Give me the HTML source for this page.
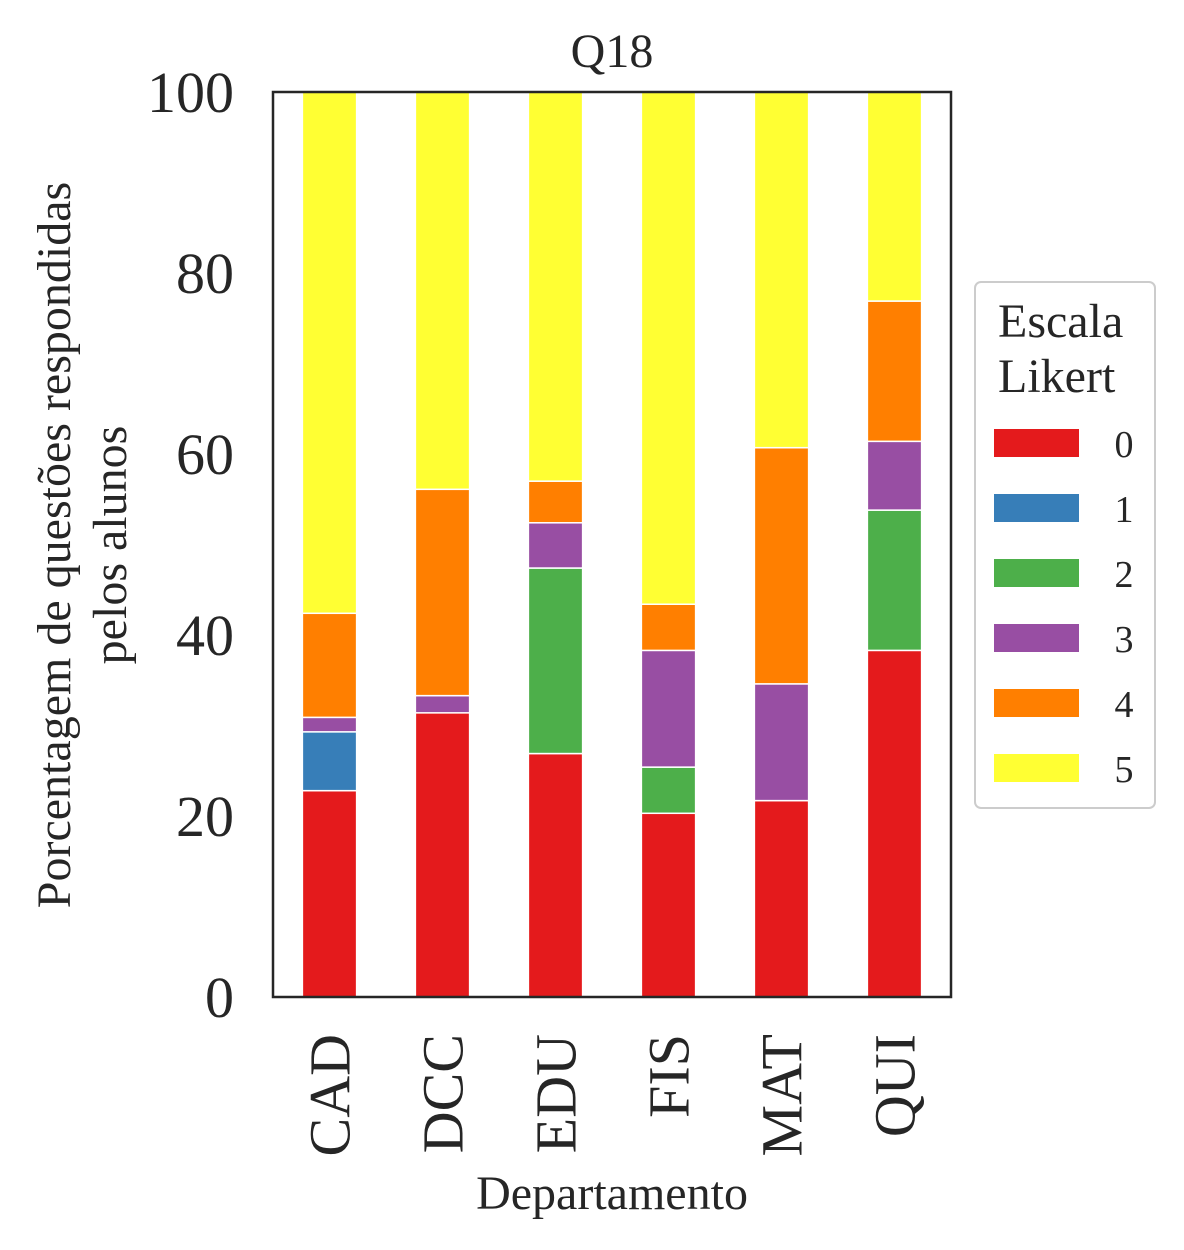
<!DOCTYPE html>
<html><head><meta charset="utf-8"><style>
html,body{margin:0;padding:0;background:#fff;}
svg{display:block;font-family:"Liberation Serif","DejaVu Serif",serif;}
</style></head><body>
<svg id="chart" width="1184" height="1250" viewBox="0 0 1184 1250">
<g id="bars"></g>
<rect x="273" y="92" width="678" height="905" fill="none" stroke="#262626" stroke-width="2.5"/>
<text x="612" y="67" font-size="48" text-anchor="middle" fill="#262626">Q18</text>
<g id="yticks"></g>
<g id="xticks"></g>
<text x="612" y="1209" font-size="48" text-anchor="middle" fill="#262626">Departamento</text>
<text transform="translate(70,545) rotate(-90)" font-size="48" text-anchor="middle" fill="#262626"><tspan x="0" dy="0">Porcentagem de questões respondidas</tspan><tspan x="0" dy="56">pelos alunos</tspan></text>
<g>
<rect x="975" y="282" width="180" height="526" rx="6" fill="#fff" stroke="#ccc" stroke-width="2"/>
<text x="998" y="337" font-size="48" fill="#262626">Escala</text>
<text x="998" y="392" font-size="48" fill="#262626">Likert</text>
<g id="legend-entries"></g>
</g>
</svg>
<script>
const categories = ["CAD","DCC","EDU","FIS","MAT","QUI"];
const levels = ["0","1","2","3","4","5"];
const colors = ["#e41a1c","#377eb8","#4daf4a","#984ea3","#ff7f00","#ffff33"];
const s0 = [22.8, 31.4, 26.9, 20.3, 21.7, 38.3];
const s1 = [6.5, 0, 0, 0, 0, 0];
const s2 = [0, 0, 20.5, 5.1, 0, 15.5];
const s3 = [1.6, 1.9, 5.0, 12.9, 12.9, 7.6];
const s4 = [11.5, 22.8, 4.6, 5.1, 26.1, 15.5];
const s5 = [57.6, 43.9, 43.0, 56.6, 39.3, 23.1];
const yTicks = [0,20,40,60,80,100];

const NS="http://www.w3.org/2000/svg";
const X0=273,X1=951,Y0=997,Y1=92;
const band=(X1-X0)/categories.length;
const xc=i=>X0+band*(i+0.5);
const y=v=>Y0-(v/100)*(Y0-Y1);
const bw=band*0.48;
const series=[s0,s1,s2,s3,s4,s5];
const barsG=document.getElementById('bars');
categories.forEach((c,i)=>{
  let cum=0;
  series.forEach((s,k)=>{
    const v=s[i];
    if(v<=0){return;}
    const r=document.createElementNS(NS,'rect');
    r.setAttribute('x',xc(i)-bw/2);
    r.setAttribute('y',y(cum+v));
    r.setAttribute('width',bw);
    r.setAttribute('height',y(cum)-y(cum+v));
    r.setAttribute('fill',colors[k]);
    r.setAttribute('stroke','#fff');
    r.setAttribute('stroke-width','1.5');
    
    
    barsG.appendChild(r);
    cum+=v;
  });
});
const yg=document.getElementById('yticks');
yTicks.forEach(t=>{
  const tx=document.createElementNS(NS,'text');
  tx.setAttribute('x',234);
  tx.setAttribute('y',y(t)+20);
  tx.setAttribute('font-size','58');
  tx.setAttribute('text-anchor','end');
  tx.setAttribute('fill','#262626');
  tx.textContent=t;
  
  
  yg.appendChild(tx);
});
const xg=document.getElementById('xticks');
categories.forEach((c,i)=>{
  const tx=document.createElementNS(NS,'text');
  tx.setAttribute('transform','translate('+(xc(i)+20)+',1034) rotate(-90)');
  tx.setAttribute('font-size','58');
  tx.setAttribute('text-anchor','end');
  tx.setAttribute('fill','#262626');
  tx.textContent=c;
  
  
  xg.appendChild(tx);
});
const lg=document.getElementById('legend-entries');
levels.forEach((l,k)=>{
  const yy=429+k*65;
  const r=document.createElementNS(NS,'rect');
  r.setAttribute('x',994);r.setAttribute('y',yy);
  r.setAttribute('width',85);r.setAttribute('height',28);
  r.setAttribute('fill',colors[k]);
  
  
  lg.appendChild(r);
  const t=document.createElementNS(NS,'text');
  t.setAttribute('x',1124);t.setAttribute('y',yy+28);
  t.setAttribute('font-size','38');t.setAttribute('text-anchor','middle');
  t.setAttribute('fill','#262626');
  t.textContent=l;
  
  
  lg.appendChild(t);
});
</script>
</body></html>
